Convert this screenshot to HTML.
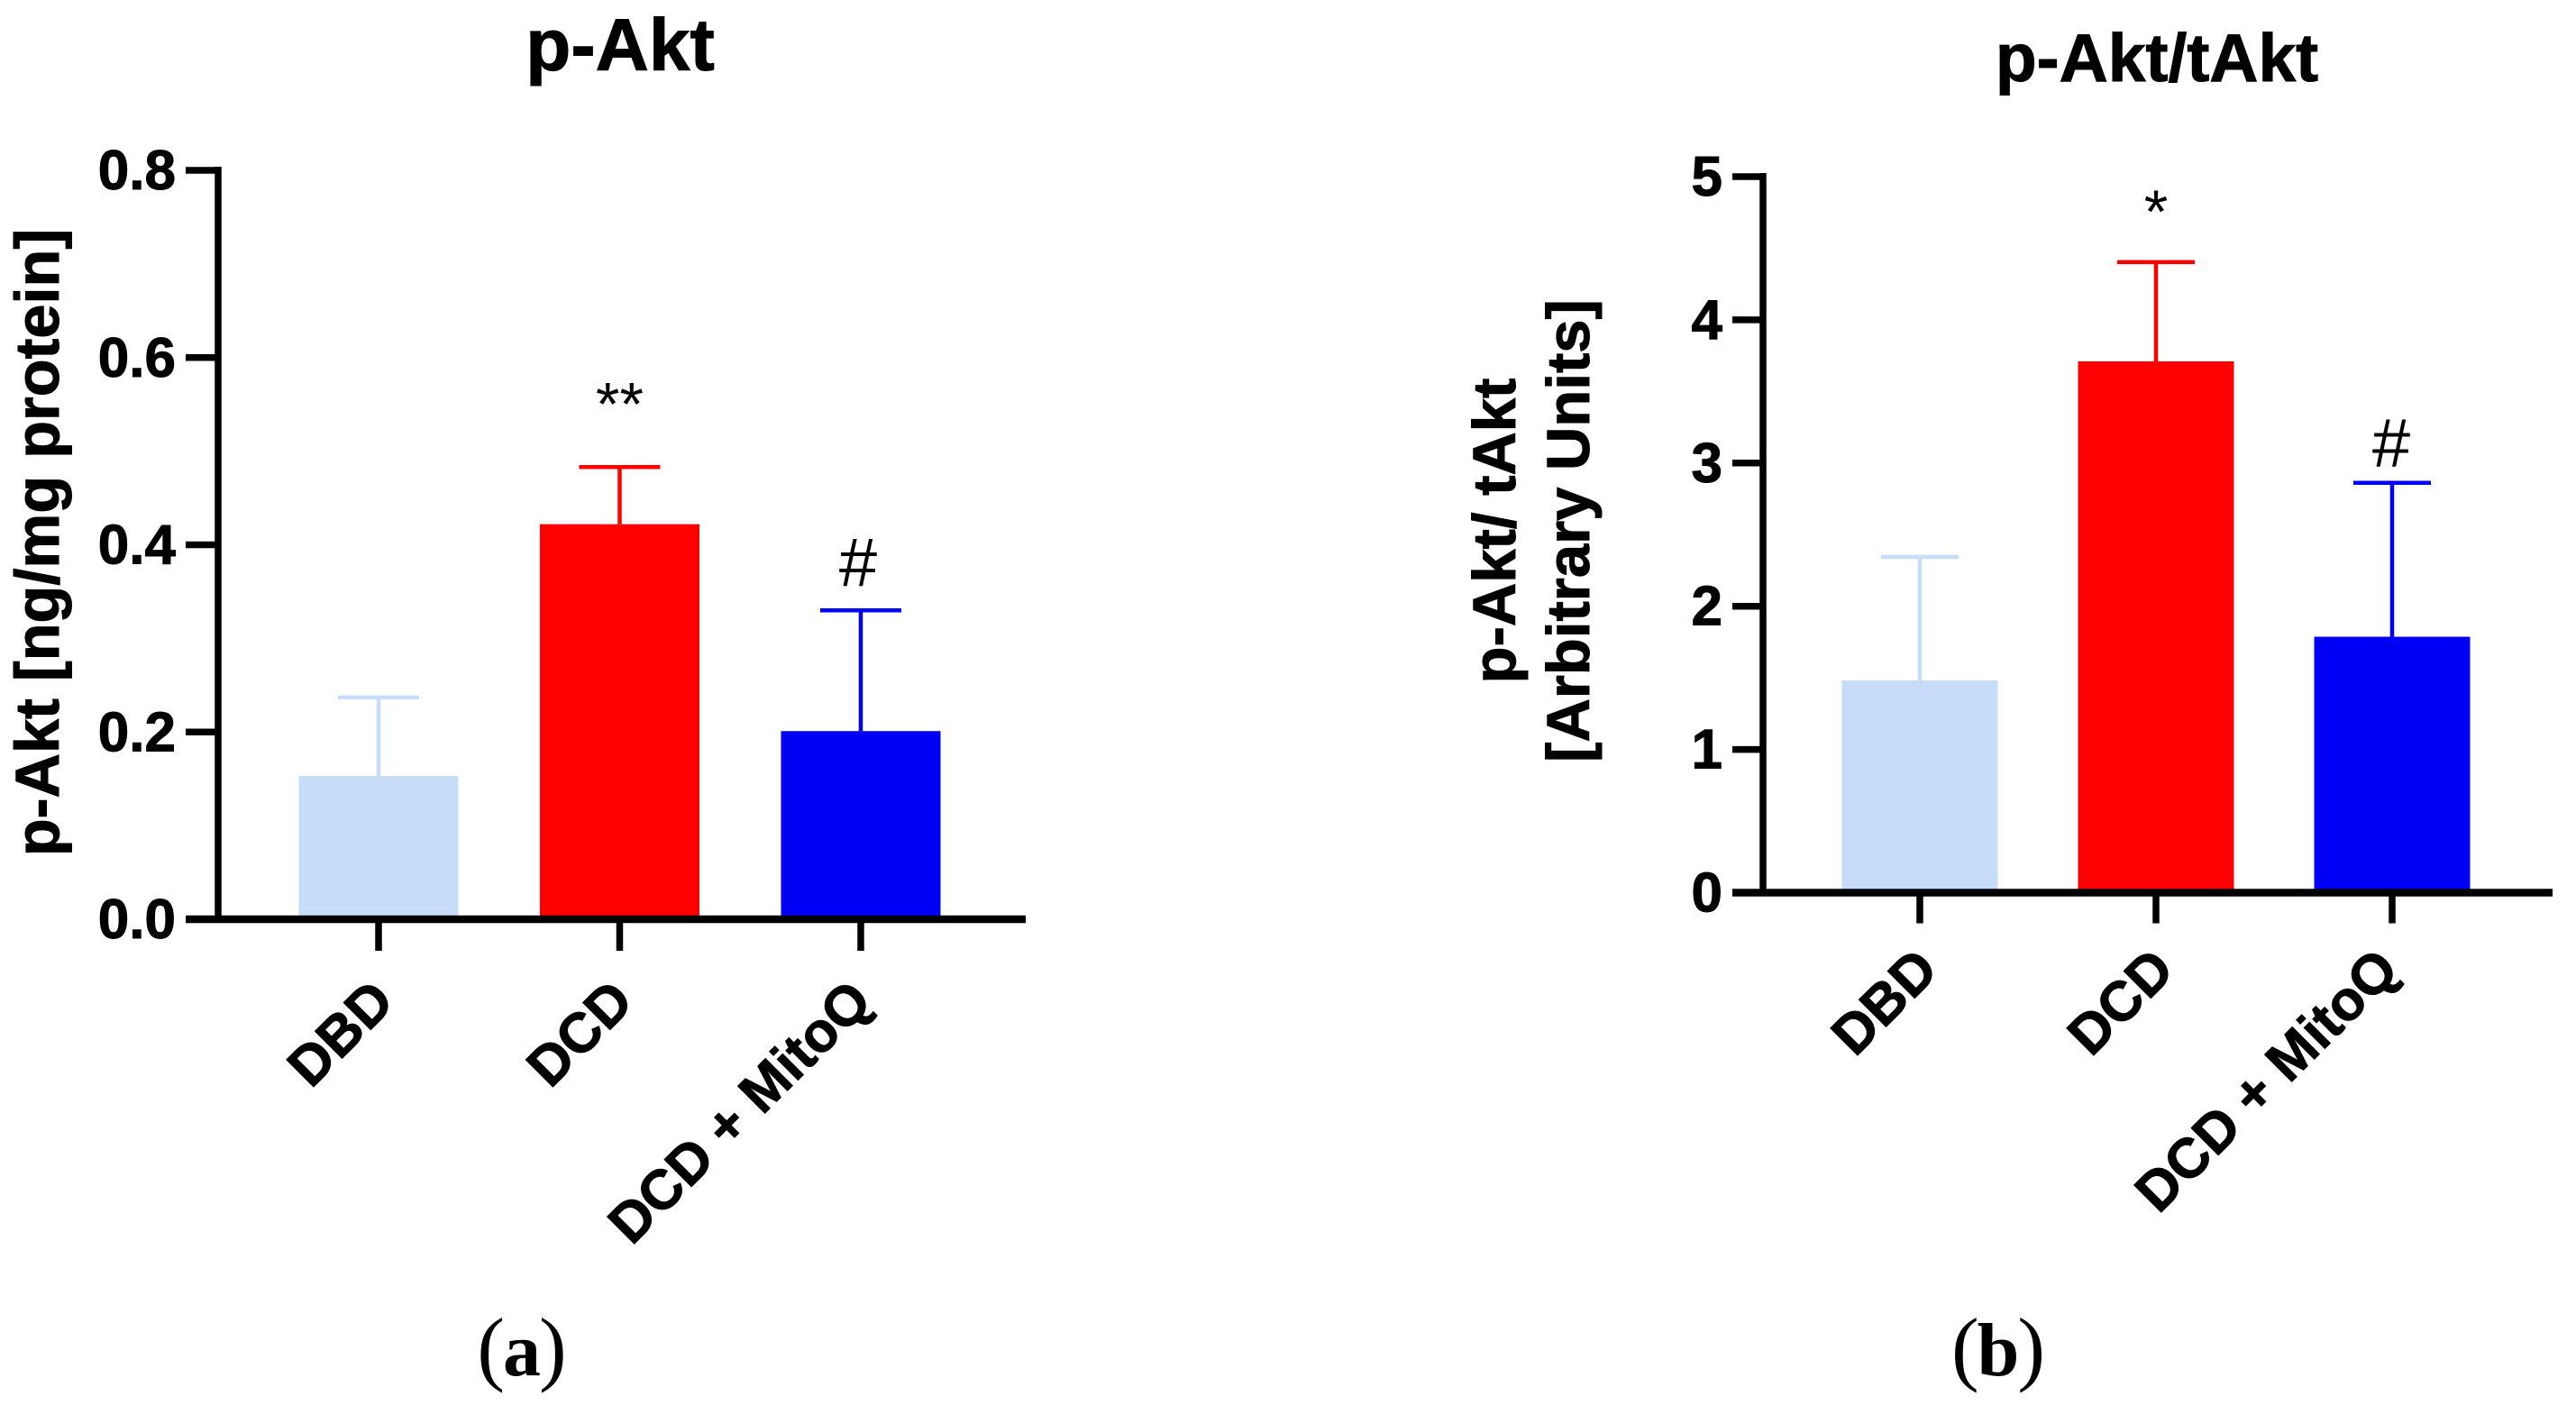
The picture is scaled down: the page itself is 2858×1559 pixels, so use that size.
<!DOCTYPE html>
<html lang="en">
<head>
<meta charset="utf-8">
<title>p-Akt and p-Akt/tAkt bar charts</title>
<style>
  html, body { margin: 0; padding: 0; background: #fff; }
  svg { display: block; }
  text { font-family: "Liberation Sans", sans-serif; fill: #000; }
  .bold { font-weight: 700; stroke: #000; stroke-width: 1; }
  .panel { font-family: "Liberation Serif", serif; font-size: 92px; }
  .panel tspan { font-size: 84px; font-weight: 700; }
</style>
</head>
<body>
<svg id="figure" xmlns="http://www.w3.org/2000/svg" width="2858" height="1559" viewBox="0 0 2858 1559">
  <rect width="2858" height="1559" fill="#ffffff"/>

  <g id="chart-a">
    <text class="bold" x="688" y="78" font-size="82" text-anchor="middle">p-Akt</text>
    <text class="bold" font-size="68.5" text-anchor="middle" transform="translate(65 602) rotate(-90)">p-Akt [ng/mg protein]</text>
    <text class="panel" x="579" y="1526" text-anchor="middle">(<tspan dx="-2">a</tspan><tspan dx="-2" style="font-size:92px;font-weight:400">)</tspan></text>
  </g>

  <g id="chart-b">
    <text class="bold" x="2393" y="90" font-size="75" text-anchor="middle">p-Akt/tAkt</text>
    <text class="bold" font-size="67" text-anchor="middle" transform="translate(1681 589) rotate(-90)">p-Akt/ tAkt</text>
    <text class="bold" font-size="67" text-anchor="middle" transform="translate(1763 589) rotate(-90)">[Arbitrary Units]</text>
    <text class="panel" x="2217" y="1526" text-anchor="middle">(<tspan dx="-2">b</tspan><tspan dx="-2" style="font-size:92px;font-weight:400">)</tspan></text>
  </g>
</svg>

<script>
// Chart data
const categories = ['DBD', 'DCD', 'DCD + MitoQ'];
const barColors = ['#c6dcf8', '#ff0000', '#0000f5'];

const aValues = [0.153, 0.422, 0.201];
const aErrorTops = [0.237, 0.483, 0.330];
const aTickLabels = ['0.0', '0.2', '0.4', '0.6', '0.8'];
const aSignificance = ['', '**', '#'];

const bValues = [1.482, 3.71, 1.787];
const bErrorTops = [2.345, 4.403, 2.862];
const bTickLabels = ['0', '1', '2', '3', '4', '5'];
const bSignificance = ['', '*', '#'];

const SVG_NS = 'http://www.w3.org/2000/svg';

function make(parent, tag, attrs) {
  const node = document.createElementNS(SVG_NS, tag);
  for (const key in attrs) node.setAttribute(key, attrs[key]);
  parent.appendChild(node);
  return node;
}

function drawChart(parentId, suffix, layout, values, errorTops, tickLabels, significance) {
  const parent = document.getElementById(parentId);
  const yMax = Number(tickLabels[tickLabels.length - 1]);
  const yScale = function (v) { return layout.y0 + (layout.yTop - layout.y0) * v / yMax; };
  const xScale = function (i) { return layout.x0 + layout.step * i; };

  categories.forEach(function (category, i) {
    const cx = xScale(i);
    const color = barColors[i];

    const stem = make(parent, 'line', { x1: cx, x2: cx, y1: yScale(errorTops[i]), y2: yScale(values[i]), stroke: color, 'stroke-width': 4.5 });
    
    

    const cap = make(parent, 'line', { x1: cx - layout.capWidth / 2, x2: cx + layout.capWidth / 2, y1: yScale(errorTops[i]), y2: yScale(errorTops[i]), stroke: color, 'stroke-width': 4.5 });
    
    

    const bar = make(parent, 'rect', { x: cx - layout.barWidth / 2, y: yScale(values[i]), width: layout.barWidth, height: yScale(0) - yScale(values[i]), fill: color });
    
    

    const tick = make(parent, 'line', { x1: cx, x2: cx, y1: layout.y0, y2: layout.y0 + layout.xTickLen, stroke: '#000', 'stroke-width': 7.5 });
    
    

    const lx = cx + layout.labelDx[i];
    const ly = layout.labelY;
    const label = make(parent, 'text', { class: 'bold', x: lx, y: ly, 'font-size': 62, 'text-anchor': 'end', transform: 'rotate(-45 ' + lx + ' ' + ly + ')' });
    label.textContent = category;
    
    

    if (significance[i]) {
      const isHash = significance[i] === '#';
      const mark = make(parent, 'text', { x: cx + (isHash ? layout.hashDx : 0), y: yScale(errorTops[i]) - (isHash ? layout.hashGap : layout.starGap), 'font-size': isHash ? 76 : 68, 'text-anchor': 'middle' });
      mark.textContent = significance[i];
      
      
    }
  });

  tickLabels.forEach(function (labelText) {
    const v = Number(labelText);
    const y = yScale(v);
    const tick = make(parent, 'line', { x1: layout.axisX - layout.yTickLen, x2: layout.axisX, y1: y, y2: y, stroke: '#000', 'stroke-width': 7.5 });
    
    

    const label = make(parent, 'text', { class: 'bold', x: layout.labelRight, y: y + 21, 'font-size': 62, 'text-anchor': 'end' });
    label.textContent = labelText;
    
    
  });

  const yAxis = make(parent, 'line', { x1: layout.axisX, x2: layout.axisX, y1: layout.yTop - 4, y2: layout.y0 + 4, stroke: '#000', 'stroke-width': 7.5 });
  
  

  const xAxis = make(parent, 'line', { x1: layout.axisX - layout.yTickLen, x2: layout.xEnd, y1: layout.y0, y2: layout.y0, stroke: '#000', 'stroke-width': 8.5 });
  
  
}

drawChart('chart-a', 'a', {
  y0: 1020, yTop: 189, x0: 420, step: 267.5, barWidth: 177, capWidth: 90,
  axisX: 242, yTickLen: 36, xEnd: 1138, xTickLen: 35, labelRight: 195,
  labelDx: [20, 18, 15], labelY: 1114, hashDx: -3, hashGap: 27, starGap: 47
}, aValues, aErrorTops, aTickLabels, aSignificance);

drawChart('chart-b', 'b', {
  y0: 990.5, yTop: 196, x0: 2130, step: 262, barWidth: 173, capWidth: 86,
  axisX: 1956, yTickLen: 34, xEnd: 2832, xTickLen: 34, labelRight: 1911,
  labelDx: [23, 23, 10], labelY: 1079, hashDx: -1, hashGap: 18, starGap: 33
}, bValues, bErrorTops, bTickLabels, bSignificance);
</script>
</body>
</html>
